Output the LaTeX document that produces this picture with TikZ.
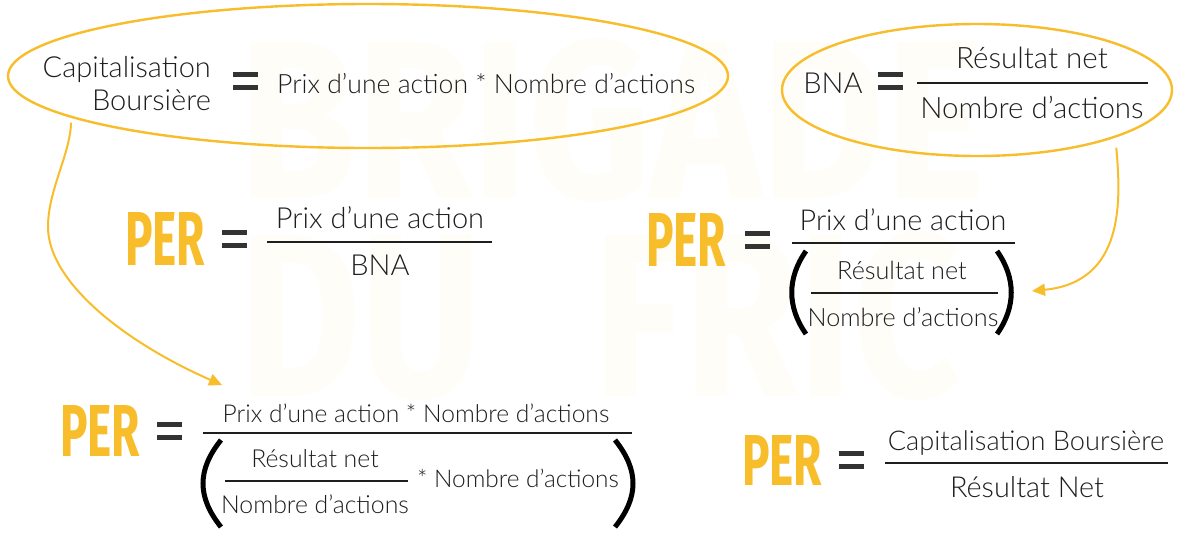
\documentclass[tikz,border=0pt]{standalone}
\usepackage{fontspec}
\setmainfont{Lato}[UprightFont=* Light]
\newfontfamily\perfont{Fira Sans}
\usetikzlibrary{arrows.meta,shapes.geometric}
\definecolor{gold}{HTML}{F8BD2A}
\definecolor{ink}{HTML}{1E1E1E}
\definecolor{eqc}{HTML}{333333}
\definecolor{wmc}{HTML}{FFFDF7}
\begin{document}
\begin{tikzpicture}[x=1pt,y=-1pt,
  txt/.style={inner sep=0pt, text=ink},
  fsize/.style={font=\fontsize{#1}{#1}\selectfont},
  pertext/.style={inner sep=0pt, text=gold},
  ring/.style={draw=gold, line width=2.4pt, ellipse, inner sep=0pt},
  fracline/.style={draw=ink, line width=2.8pt},
  paren/.style={draw=black, line width=5pt},
  link/.style={draw=gold, line width=2pt, -{Triangle[length=13pt,width=12pt]}},
  eqs/.pic={\fill[eqc] (-12.5,-9) rectangle (12.5,-4);
            \fill[eqc] (-12.5,4) rectangle (12.5,9);}
]
\useasboundingbox[fill=white] (0,0) rectangle (1200,547);

% watermark
\node[inner sep=0pt, text=wmc] (wm1) at (612,120) {\resizebox{745pt}{160pt}{\perfont\bfseries BRIGADE}};
\node[inner sep=0pt, text=wmc] (wm2) at (600,316) {\resizebox{720pt}{165pt}{\perfont\bfseries DU\hspace{0.6em}FRIC}};

% top-left ellipse
\node[ring, minimum width=720pt, minimum height=144pt] (capE) at (368,76) {};
\node[txt, fsize=29, anchor=base east] (cap1) at (211,77) {Capitalisation};
\node[txt, fsize=29, anchor=base east] (cap2) at (211,110) {Boursière};
\pic at (245,80.5) {eqs};
\node[txt, fsize=26.6, anchor=base west] (capR) at (277,93) {Prix d’une action * Nombre d’actions};

% BNA ellipse
\node[ring, minimum width=390pt, minimum height=132pt] (bnaE) at (977,90) {};
\node[txt, fsize=29, anchor=base] (bna) at (833,93) {BNA};
\pic at (890.5,80.5) {eqs};
\node[txt, fsize=29.5, anchor=base] (bnaN) at (1032,68) {Résultat net};
\draw[fracline] (917,83) -- (1148,83);
\node[txt, fsize=29.5, anchor=base] (bnaD) at (1032,118) {Nombre d’actions};

% eq 2
\node[pertext] (per2) at (165,238.5) {\resizebox{80pt}{53pt}{\perfont\bfseries PER}};
\pic at (234.5,239) {eqs};
\node[txt, fsize=29, anchor=base] (e2N) at (380,228) {Prix d’une action};
\draw[fracline] (267,242) -- (492,242);
\node[txt, fsize=29, anchor=base] (e2D) at (380,275) {BNA};

% eq 3
\node[pertext] (per3) at (686,240) {\resizebox{80pt}{53pt}{\perfont\bfseries PER}};
\pic at (757,240) {eqs};
\node[txt, fsize=28.8, anchor=base] (e3N) at (903,230) {Prix d’une action};
\draw[fracline] (792,243) -- (1015,243);
\draw[paren] (806,251) .. controls (787,278) and (787,307) .. (806,334);
\draw[paren] (997,251) .. controls (1016,278) and (1016,307) .. (997,334);
\node[txt, fsize=25.2, anchor=base] (e3a) at (902,279) {Résultat net};
\draw[fracline, line width=2pt] (811,293) -- (998,293);
\node[txt, fsize=25.2, anchor=base] (e3b) at (903,326) {Nombre d’actions};

% eq 4
\node[pertext] (per4) at (100,430.5) {\resizebox{80pt}{51pt}{\perfont\bfseries PER}};
\pic at (169.5,430.5) {eqs};
\node[txt, fsize=24.6, anchor=base] (e4N) at (416,422) {Prix d’une action * Nombre d’actions};
\draw[fracline] (203,433) -- (632,433);
\draw[paren] (221,440) .. controls (197,470) and (197,497) .. (221,527);
\draw[paren] (615,440) .. controls (639,470) and (639,497) .. (615,527);
\node[txt, fsize=24.8, anchor=base] (e4a) at (315,467) {Résultat net};
\draw[fracline, line width=2pt] (225,481) -- (408,481);
\node[txt, fsize=24.8, anchor=base] (e4b) at (315,513) {Nombre d’actions};
\node[txt, fsize=24.4, anchor=base west] (e4c) at (417,487) {* Nombre d’actions};

% eq 5
\node[pertext] (per5) at (782,460) {\resizebox{80pt}{50pt}{\perfont\bfseries PER}};
\pic at (851.5,460) {eqs};
\node[txt, fsize=27.2, anchor=base] (e5N) at (1026,450) {Capitalisation Boursière};
\draw[fracline] (885,463) -- (1168,463);
\node[txt, fsize=28.9, anchor=base] (e5D) at (1027,497) {Résultat Net};

% arrows
\coordinate (tip1) at (222,385);
\coordinate (tip2) at (1032,291);
\draw[link, shorten <=5pt] (capE.188.7) .. controls (70,155) and (48,190) .. (48,227)
   .. controls (48,280) and (120,340) .. (tip1);
\draw[link, shorten <=10pt] (bnaE.341.2) .. controls (1121,200) and (1125,282) .. (tip2);
\end{tikzpicture}
\end{document}
